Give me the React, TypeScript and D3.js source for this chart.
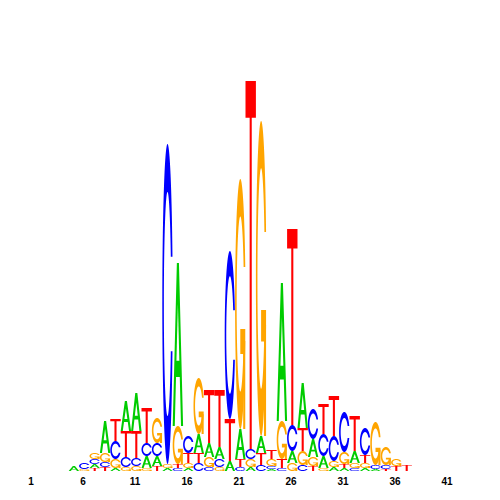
import React, { useMemo } from 'react';
import * as d3 from 'd3';

// positions 1..41, values = letter heights (relative units)
const positions = d3.range(1, 42);
const tickLabels = [1, 6, 11, 16, 21, 26, 31, 36, 41];

const heightA = [0, 0, 0, 0,
  0.05, 0, 0.04, 0.32, 0.03, 0.30, 0.38, 0.12, 0.10, 0.03, 1.63, 0.03, 0.19, 0.14, 0.12, 0.10,
  0.30, 0.04, 0.17, 0.02, 1.38, 0.12, 0.45, 0.18, 0.12, 0.04, 0.03, 0.12, 0.03, 0.02, 0, 0, 0,
  0, 0, 0, 0];
const heightC = [0, 0, 0, 0,
  0, 0.06, 0.05, 0.05, 0.18, 0.10, 0.08, 0.13, 0.13, 3.20, 0.03, 0.17, 0.08, 0.04, 0.08, 1.68,
  0.04, 0.10, 0.06, 0.03, 0.03, 0.26, 0.06, 0.30, 0.22, 0.25, 0.40, 0.03, 0.27, 0.04, 0.04, 0, 0,
  0, 0, 0, 0];
const heightG = [0, 0, 0, 0,
  0, 0.02, 0.06, 0.09, 0.09, 0.04, 0.05, 0.03, 0.25, 0.04, 0.38, 0.05, 0.56, 0.10, 0.04, 0,
  2.50, 0.08, 3.15, 0.07, 0.38, 0.08, 0.14, 0.09, 0.03, 0.06, 0.12, 0.05, 0.05, 0.43, 0.18, 0.07, 0,
  0, 0, 0, 0];
const heightT = [0, 0, 0, 0,
  0, 0, 0.03, 0.04, 0.22, 0.26, 0.27, 0.35, 0.05, 0, 0.04, 0.10, 0.10, 0.53, 0.57, 0.42,
  0.08, 3.68, 0.12, 0.09, 0.09, 1.96, 0.23, 0.05, 0.30, 0.40, 0.04, 0.35, 0.08, 0, 0.02, 0.05, 0.06,
  0, 0, 0, 0];

const colors: Record<string, string> = { A: '#00cc00', C: '#0000ff', G: '#ffa500', T: '#ff0000' };
const FONT_FAMILY = '"Liberation Sans", Arial, Helvetica, sans-serif';

type Pt = [number, number];
type Poly = { pts: Pt[]; fill: string };

function ringOutline(): Pt[] {
  const n = 100;
  const a1s = 0.3 + Math.PI / 2, a1e = Math.PI;
  const a1 = d3.range(n).map((i) => a1s + ((a1e - a1s) * i) / (n - 1));
  const a2 = d3.range(n).map((i) => Math.PI + (0.5 * Math.PI * i) / (n - 1));
  const xl = [...a1, ...a2].map((a) => 0.5 + 0.5 * Math.sin(a));
  const yl = [...a1, ...a2].map((a) => 0.5 + 0.5 * Math.cos(a));
  const maxY = d3.max(a1.map((a) => 0.5 + 0.5 * Math.cos(a)))!;
  const xo = [...xl, ...xl.slice().reverse()];
  const yo = [...yl, ...yl.slice().reverse().map((v) => 1 - v)];
  let xi1 = a1.map((a) => 0.5 + 0.35 * Math.sin(a));
  let yi1 = a1.map((a) => 0.5 + 0.35 * Math.cos(a));
  const keep = yi1.map((v) => v <= maxY);
  xi1 = xi1.filter((_, i) => keep[i]);
  yi1 = yi1.filter((_, i) => keep[i]);
  yi1[0] = maxY;
  const xi2 = a2.map((a) => 0.5 + 0.35 * Math.sin(a));
  const yi2 = a2.map((a) => 0.5 + 0.35 * Math.cos(a));
  const xi = [...xi1, ...xi2];
  const yi = [...yi1, ...yi2];
  const xin = [...xi, ...xi.slice().reverse()];
  const yin = [...yi, ...yi.slice().reverse().map((v) => 1 - v)];
  const X = [...xo, ...xin.slice().reverse()];
  const Y = [...yo, ...yin.slice().reverse()];
  return X.map((x, i) => [x, Y[i]] as Pt);
}

function letterShapes(): Record<string, Poly[]> {
  const ring = ringOutline();
  const r1 = 0.5 + 0.5 * Math.sin(0.3 + Math.PI / 2);
  const h1 = 0.4;
  const s = (arr: number[][]) => arr.map(([x, y]) => [x * 0.1, y * 0.1] as Pt);
  return {
    A: [
      { pts: s([[0, 0], [4, 10], [6, 10], [10, 0], [8, 0], [6.8, 3], [3.2, 3], [2, 0]]), fill: colors.A },
      { pts: s([[3.6, 4], [5, 7.5], [6.4, 4]]), fill: '#ffffff' },
    ],
    T: [{ pts: s([[0, 10], [10, 10], [10, 9], [6, 9], [6, 0], [4, 0], [4, 9], [0, 9]]), fill: colors.T }],
    C: [{ pts: ring, fill: colors.C }],
    G: [
      { pts: ring.slice().reverse(), fill: colors.G },
      {
        pts: [[r1, h1], [0.5, h1], [0.5, h1 - 0.1], [r1 - 0.2, h1 - 0.1], [r1 - 0.2, 0], [r1, 0]] as Pt[],
        fill: colors.G,
      },
    ],
  };
}

export default function App() {
  const shapes = useMemo(letterShapes, []);
  const x = d3.scaleLinear().domain([1, 41]).range([31, 447]);
  const y = d3.scaleLinear().domain([0, 3.9]).range([471, 81]);
  const letterW = 10.4;
  const shift = 1.3;

  const marks: React.ReactNode[] = [];
  positions.forEach((p, i) => {
    const stack = [
      { L: 'A', v: heightA[i] },
      { L: 'C', v: heightC[i] },
      { L: 'G', v: heightG[i] },
      { L: 'T', v: heightT[i] },
    ].filter((d) => d.v > 0).sort((a, b) => a.v - b.v);
    let cum = 0;
    stack.forEach((d) => {
      const yb = y(cum);
      const yt = y(cum + d.v);
      cum += d.v;
      const x0 = x(p) - letterW / 2 + shift;
      const xs = d3.scaleLinear().domain([0, 1]).range([x0, x0 + letterW]);
      const ys = d3.scaleLinear().domain([0, 1]).range([yb, yt]);
      const line = d3.line<Pt>().x((q) => xs(q[0])).y((q) => ys(q[1]));
      shapes[d.L].forEach((poly, k) => {
        marks.push(
          <path key={`${p}-${d.L}-${k}`} d={line(poly.pts)! + 'Z'} fill={poly.fill} stroke="none" />
        );
      });
    });
  });

  return (
    <svg width={500} height={500} style={{ position: 'absolute', left: 0, top: 0, background: '#fff' }}>
      <rect width={500} height={500} fill="#fff" />
      <g>{marks}</g>
      <g>
        {tickLabels.map((t) => (
          <text
            key={t}
            x={x(t)}
            y={485}
            textAnchor="middle"
            fontFamily={FONT_FAMILY}
            fontWeight="bold"
            fontSize={10}
            fill="#000"
          >
            {t}
          </text>
        ))}
      </g>
    </svg>
  );
}
